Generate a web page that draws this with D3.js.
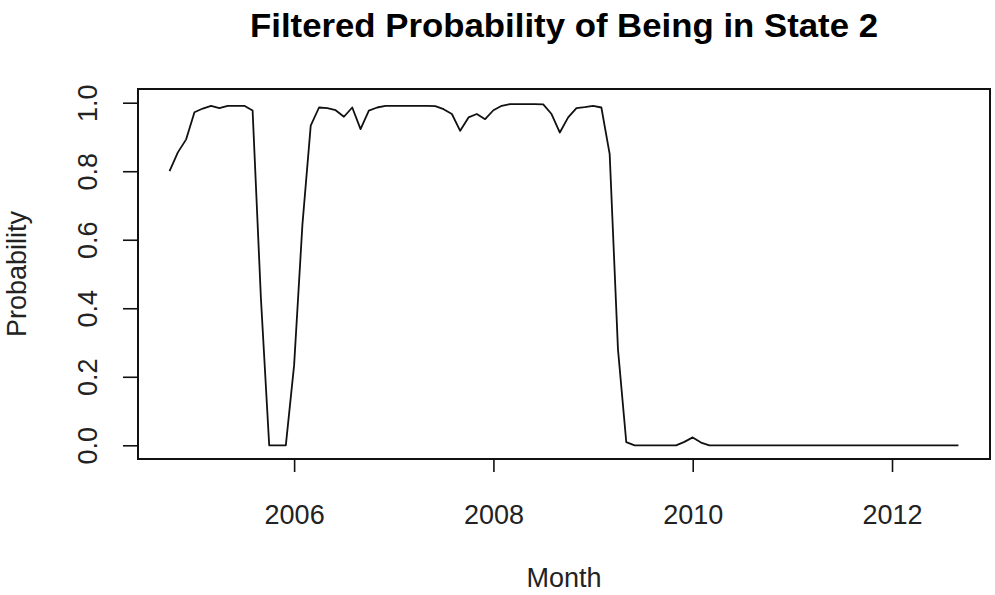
<!DOCTYPE html>
<html>
<head>
    <meta charset="utf-8"/>
    <title>Filtered Probability of Being in State 2</title>
    <script src="https://d3js.org/d3.v7.min.js"></script>
    <script>
        // monthly series, first month is Oct 2004
        const START_YEAR = 2004
        const START_MONTH = 10
        const probabilities = [
            0.800, 0.855, 0.893, 0.972, 0.983, 0.991, 0.984, 0.991, 0.991, 0.991, 0.977, 0.430,
            0.000, 0.000, 0.000, 0.234, 0.644, 0.933, 0.986, 0.984, 0.978, 0.959, 0.986, 0.923,
            0.977, 0.986, 0.991, 0.991, 0.991, 0.991, 0.991, 0.991, 0.990, 0.981, 0.967, 0.918,
            0.957, 0.967, 0.952, 0.978, 0.991, 0.996, 0.996, 0.996, 0.996, 0.995, 0.967, 0.913,
            0.957, 0.984, 0.987, 0.991, 0.986, 0.850, 0.280, 0.009, 0.000, 0.000, 0.000, 0.000,
            0.000, 0.000, 0.010, 0.023, 0.008, 0.000, 0.000, 0.000, 0.000, 0.000, 0.000, 0.000,
            0.000, 0.000, 0.000, 0.000, 0.000, 0.000, 0.000, 0.000, 0.000, 0.000, 0.000, 0.000,
            0.000, 0.000, 0.000, 0.000, 0.000, 0.000, 0.000, 0.000, 0.000, 0.000, 0.000, 0.000
        ]
        const xTicks = [2006, 2008, 2010, 2012]
        const yTicks = [0.0, 0.2, 0.4, 0.6, 0.8, 1.0]

        const TITLE = 'Filtered Probability of Being in State 2'
        const X_LABEL = 'Month'
        const Y_LABEL = 'Probability'

        const W = 995
        const H = 595
        let margin = { top: 89, right: 5, bottom: 136, left: 138 }
        let width = W - margin.left - margin.right
        let height = H - margin.top - margin.bottom
        const INK = '#111'
        const FONT = '"Liberation Sans", Arial, sans-serif'

        function drawChart() {
            const times = probabilities.map((p, i) => START_YEAR + (START_MONTH - 1 + i) / 12)

            // R style 4% padding on both axes
            const xPad = (d3.max(times) - d3.min(times)) * 0.04
            const x = d3.scaleLinear()
                .domain([d3.min(times) - xPad, d3.max(times) + xPad])
                .range([0, width])
            const y = d3.scaleLinear()
                .domain([-0.04, 1.04])
                .range([height, 0])

            const root = d3.select('#chart')
                .append('svg')
                .attr('width', W)
                .attr('height', H)
                .style('background', '#fff')
            const svg = root.append('g')
                .attr('transform', `translate(${margin.left},${margin.top})`)

            root.append('text')
                .attr('x', margin.left + width / 2)
                .attr('y', 37)
                .attr('text-anchor', 'middle')
                .attr('textLength', 628)
                .attr('lengthAdjust', 'spacingAndGlyphs')
                .style('font-family', FONT)
                .style('font-weight', 'bold')
                .style('font-size', '33px')
                .style('fill', '#000')
                .text(TITLE)

            const xAxis = svg.append('g')
                .attr('transform', `translate(0,${height})`)
                .call(d3.axisBottom(x).tickValues(xTicks).tickFormat(d3.format('d')).tickSize(13))
            styleAxis(xAxis)
            xAxis.selectAll('text')
                .attr('y', 65)
                .attr('dy', null)

            const yAxis = svg.append('g')
                .call(d3.axisLeft(y).tickValues(yTicks).tickFormat(d3.format('.1f')).tickSize(15))
            styleAxis(yAxis)
            yAxis.selectAll('text')
                .attr('x', 0)
                .attr('y', -41)
                .attr('dy', null)
                .attr('text-anchor', 'middle')
                .attr('transform', 'rotate(-90)')

            svg.append('rect')
                .attr('width', width)
                .attr('height', height)
                .style('fill', 'none')
                .style('stroke', INK)
                .style('stroke-width', 2)

            const line = d3.line()
                .x((d, i) => x(times[i]))
                .y(d => y(d))
            svg.append('path')
                .datum(probabilities)
                .attr('d', line)
                .style('fill', 'none')
                .style('stroke', INK)
                .style('stroke-width', 1.8)
                .style('stroke-linejoin', 'round')

            root.append('text')
                .attr('x', margin.left + width / 2)
                .attr('y', 587)
                .attr('text-anchor', 'middle')
                .style('font-family', FONT)
                .style('font-size', '27px')
                .style('fill', '#222')
                .text(X_LABEL)

            root.append('text')
                .attr('transform', `translate(26,${margin.top + height / 2}) rotate(-90)`)
                .attr('text-anchor', 'middle')
                .style('font-family', FONT)
                .style('font-size', '27px')
                .style('fill', '#222')
                .text(Y_LABEL)
        }

        function styleAxis(g) {
            g.select('.domain').remove()
            g.selectAll('line').style('stroke', INK).style('stroke-width', 1.6)
            g.selectAll('text')
                .style('font-family', FONT)
                .style('font-size', '27px')
                .style('fill', '#222')
        }
    </script>
    <style>
        body { margin: 0; background: #fff; }
    </style>
</head>
<body onload="drawChart()">
    <div id="chart"></div>
</body>
</html>
